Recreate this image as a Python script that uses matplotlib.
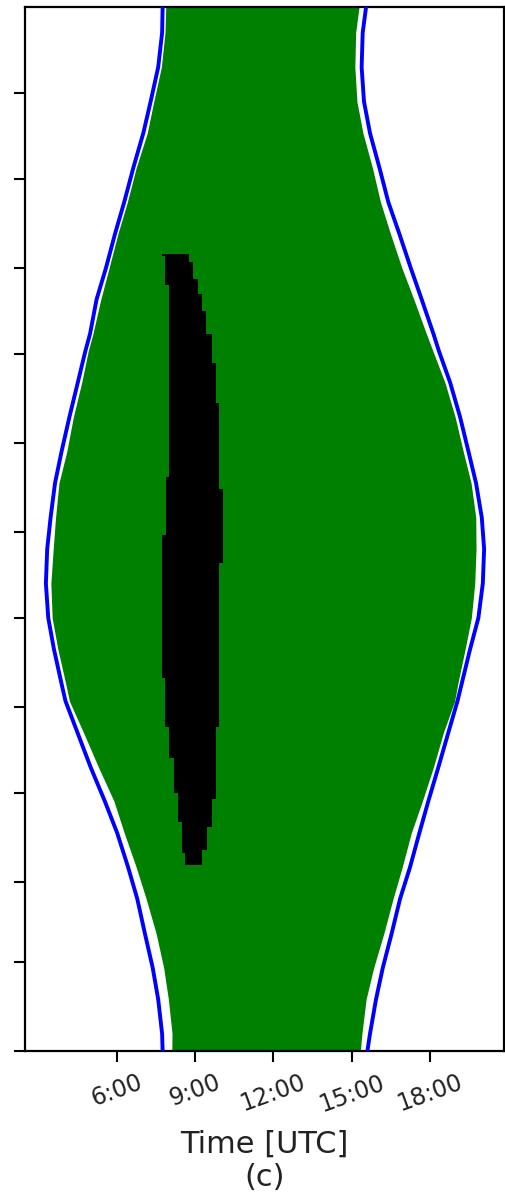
import numpy as np
import matplotlib
matplotlib.use("Agg")
import matplotlib.pyplot as plt

# day of year (0 = 1 Jan) of each envelope row
days = [0, 6, 18, 29, 41, 53, 64, 76, 87, 99, 111, 122, 128, 140, 151, 163, 175,
        186, 198, 209, 221, 233, 244, 250, 262, 273, 285, 296, 308, 320, 331, 343, 355, 364]

# sunrise / sunset [h UTC]
sunrise = [7.76, 7.74, 7.59, 7.38, 7.08, 6.79, 6.44, 6.02, 5.55, 5.00, 4.50, 4.04, 3.89,
           3.60, 3.38, 3.29, 3.34, 3.47, 3.64, 3.89, 4.19, 4.51, 4.80, 4.98, 5.23, 5.59,
           5.94, 6.29, 6.64, 7.02, 7.30, 7.59, 7.74, 7.76]
sunset = [15.60, 15.70, 15.93, 16.19, 16.53, 16.85, 17.23, 17.59, 17.93, 18.32, 18.70,
          19.05, 19.21, 19.53, 19.85, 20.02, 20.07, 19.98, 19.76, 19.47, 19.15, 18.77,
          18.34, 18.13, 17.68, 17.26, 16.82, 16.40, 16.06, 15.70, 15.47, 15.38, 15.42, 15.55]

# first / last observation of each day [h UTC]
obs_first = [8.11, 8.12, 7.98, 7.80, 7.51, 7.13, 6.75, 6.29, 5.90, 5.30, 4.73, 4.19, 4.05,
             3.75, 3.53, 3.48, 3.57, 3.66, 3.79, 4.09, 4.34, 4.66, 4.91, 5.09, 5.39, 5.71,
             6.05, 6.41, 6.75, 7.17, 7.42, 7.71, 7.85, 7.88]
obs_last = [15.33, 15.39, 15.55, 15.84, 16.23, 16.58, 16.93, 17.28, 17.70, 18.13, 18.51,
            18.94, 19.06, 19.34, 19.58, 19.71, 19.76, 19.75, 19.57, 19.27, 18.96, 18.57,
            18.11, 17.86, 17.38, 16.92, 16.48, 16.10, 15.79, 15.43, 15.20, 15.12, 15.15, 15.28]

# selected window (black)
sel_days = [65, 69, 70, 78, 80, 88, 90, 102, 113, 130, 170, 180,
            196, 200, 226, 240, 250, 258, 264, 267, 269, 275, 277, 278]
sel_start = [8.62, 8.49, 8.49, 8.49, 8.36, 8.36, 8.21, 8.01, 7.85, 7.75, 7.75, 7.89,
             7.89, 8.01, 8.01, 8.01, 8.01, 8.01, 8.01, 7.85, 7.85, 7.85, 7.75, 7.75]
sel_end = [9.26, 9.26, 9.45, 9.64, 9.64, 9.80, 9.80, 9.80, 9.93, 9.93, 10.08, 10.08,
           9.93, 9.93, 9.80, 9.64, 9.42, 9.26, 9.13, 9.13, 8.93, 8.78, 8.78, 8.78]

month_starts = [0, 31, 59, 90, 120, 151, 181, 212, 243, 273, 304, 334]
hour_ticks = [6, 9, 12, 15, 18]
hour_labels = ["6:00", "9:00", "12:00", "15:00", "18:00"]

fig = plt.figure(figsize=(5.06, 11.97), dpi=100)
ax = fig.add_axes([0.0494, 0.1220, 0.9466, 0.8722])

ax.fill_betweenx(days, obs_first, obs_last, color="green", lw=0, zorder=1)
ax.fill_betweenx(sel_days, sel_start, sel_end, step="post", color="black", lw=0, zorder=2)
ax.plot(sunrise, days, color="blue", lw=2.8, zorder=3)
ax.plot(sunset, days, color="blue", lw=2.8, zorder=3)

ax.set_xlim(2.49, 20.83)
ax.set_ylim(0, 364)
ax.set_yticks(month_starts)
ax.set_yticklabels([])
ax.set_xticks(hour_ticks)
ax.set_xticklabels(hour_labels, rotation=20, fontsize=17, color="#222222")
ax.tick_params(length=8, width=1.5, pad=6)
for s in ax.spines.values():
    s.set_linewidth(1.6)
ax.set_xlabel("Time [UTC]\n(c)", fontsize=22, color="#222222", labelpad=10, linespacing=1.15)

fig.savefig("out.png", dpi=100)
